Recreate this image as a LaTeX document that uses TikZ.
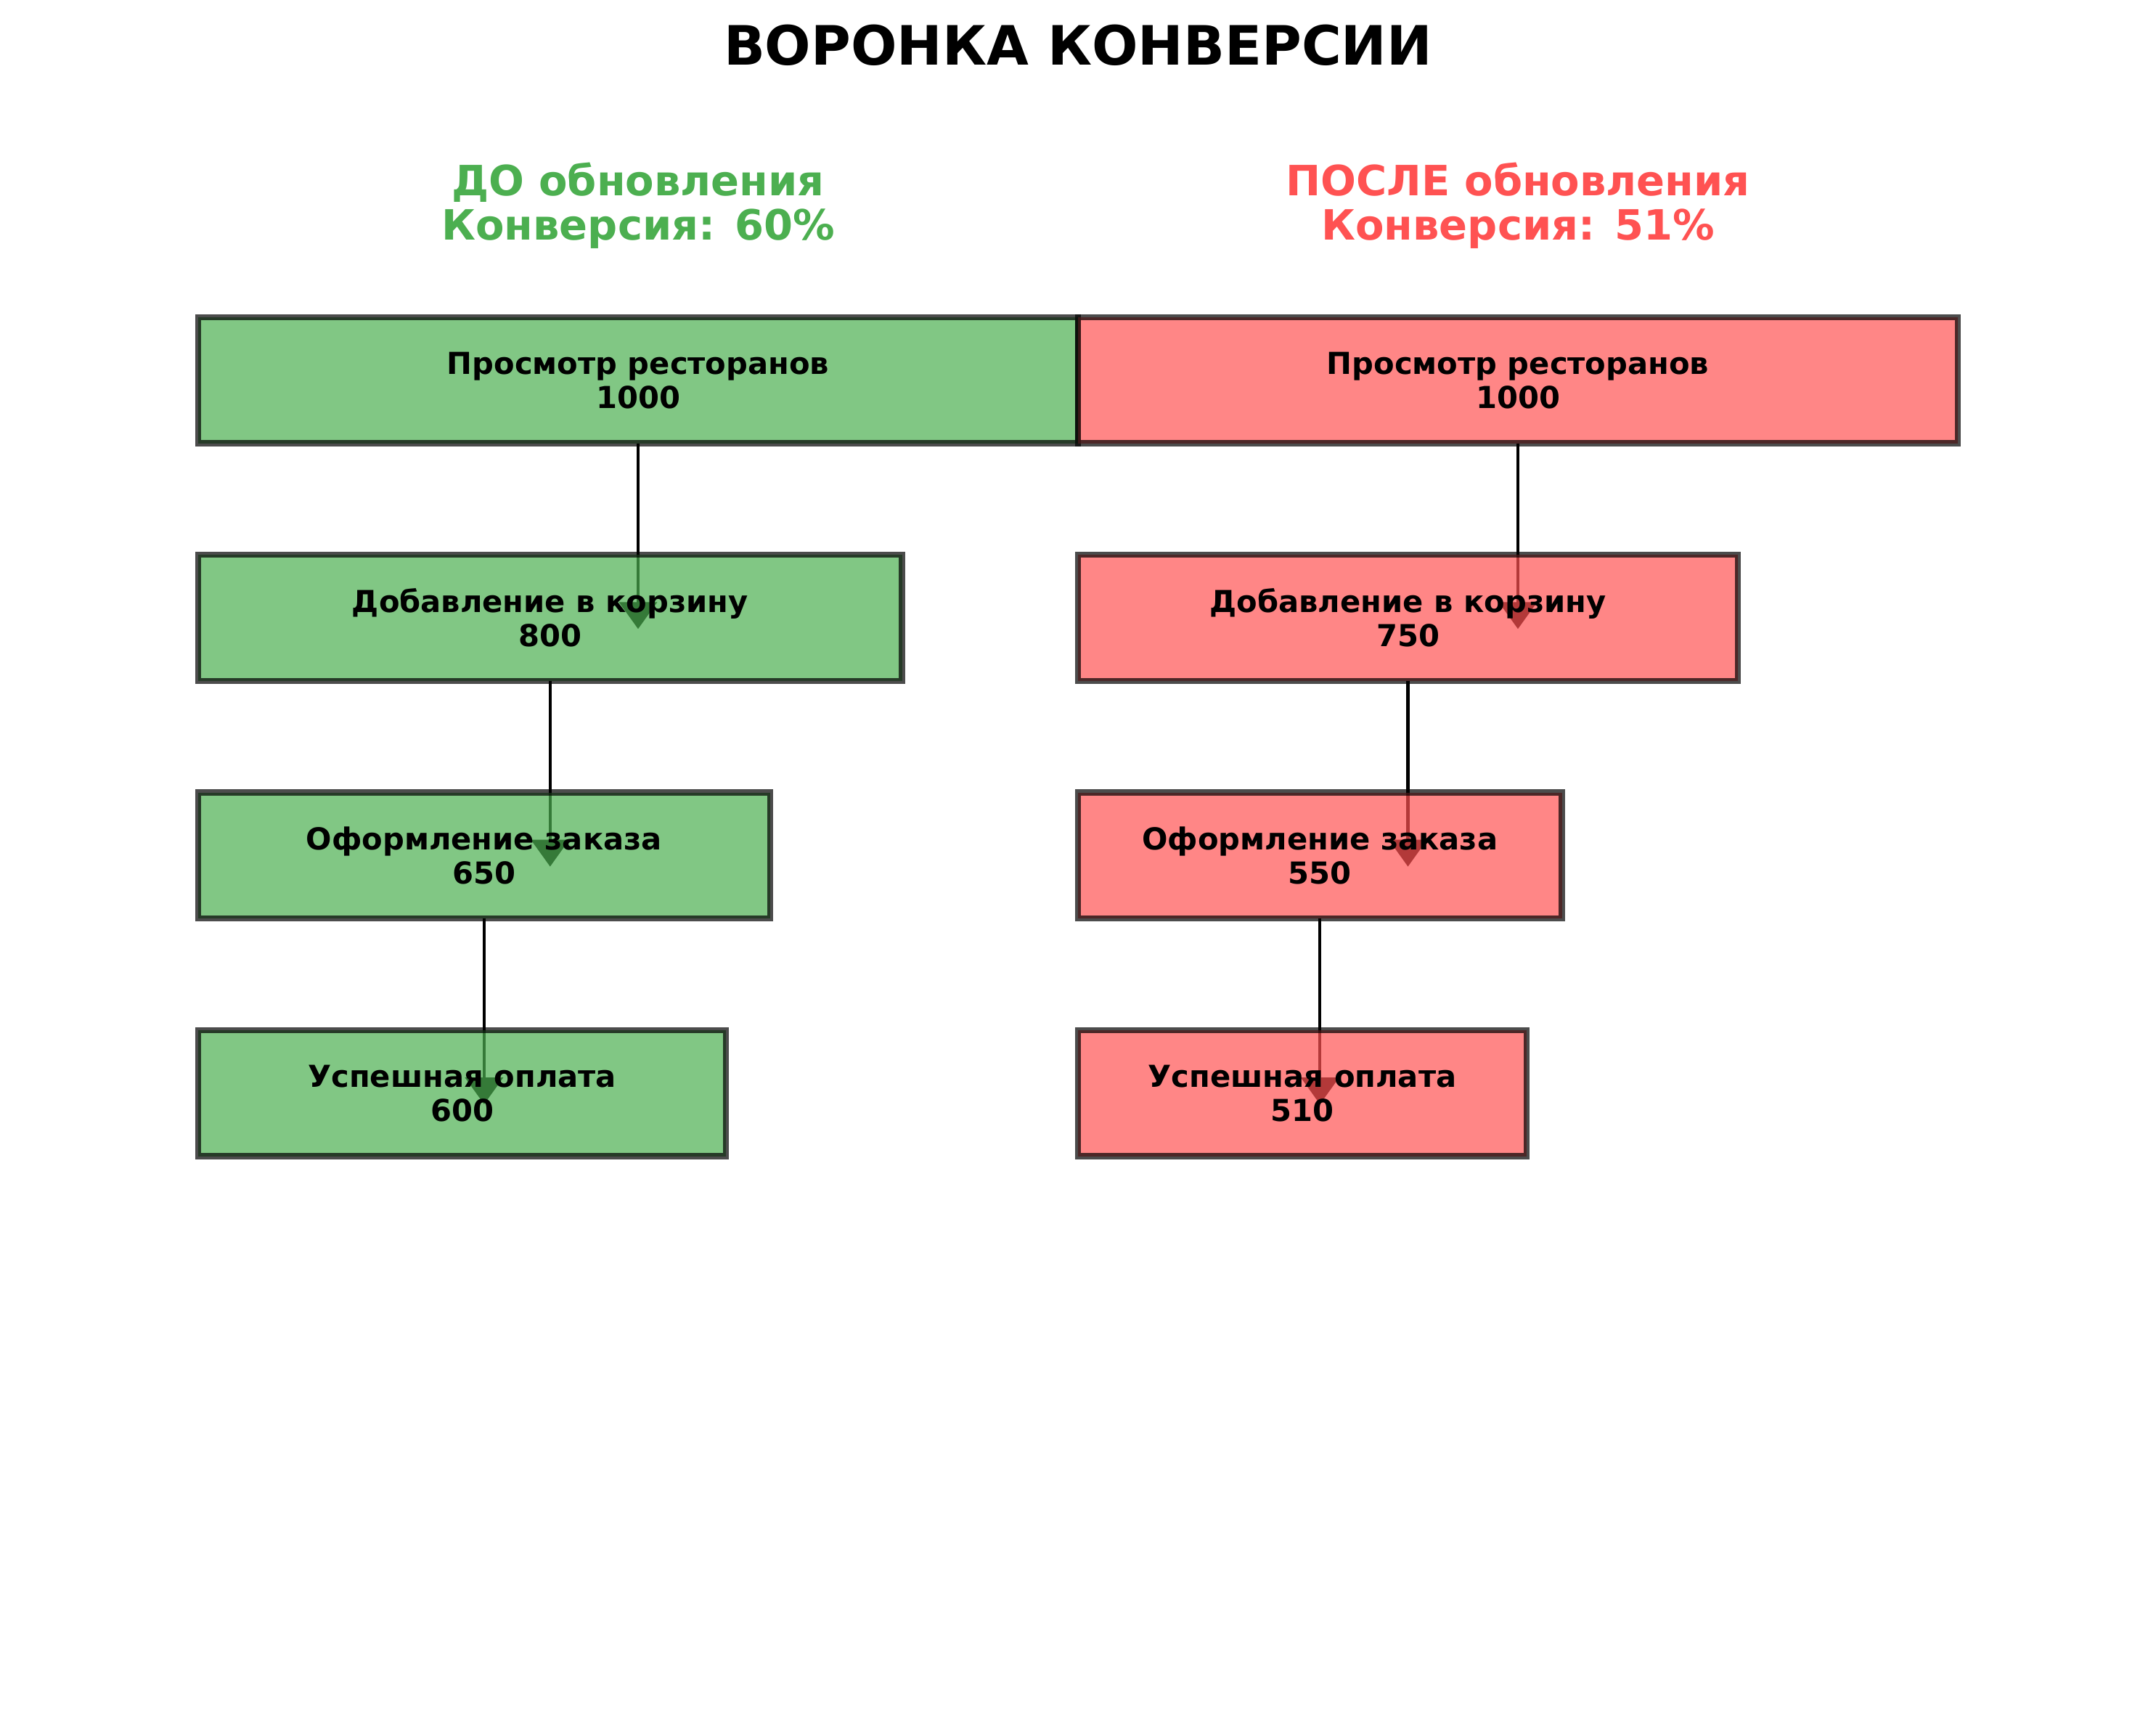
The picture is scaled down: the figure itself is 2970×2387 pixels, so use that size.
\documentclass[tikz,border=0pt]{standalone}
\usepackage{fontspec}
\setmainfont{DejaVu Sans}
\usetikzlibrary{arrows.meta,calc}
\pgfdeclarelayer{background}
\pgfsetlayers{background,main}
\definecolor{gfill}{HTML}{4CAF50}
\definecolor{rfill}{HTML}{FF5252}
\begin{document}
\begin{tikzpicture}[x=0.36pt,y=-0.36pt,
  box/.style={rectangle, draw=black, draw opacity=0.7, fill opacity=0.7, text opacity=1,
    line width=3pt, inner sep=0pt, outer sep=0pt, minimum height=173.5*0.36pt,
    anchor=north west, align=center, font=\bfseries\fontsize{15}{17}\selectfont},
  gbox/.style={box, fill=gfill},
  rbox/.style={box, fill=rfill},
  flow/.style={line width=1.5pt, black, -{Triangle[width=18.7pt,length=13.3pt]}},
  ttl/.style={font=\bfseries\fontsize{26.9}{31}\selectfont},
  sub/.style={align=center, font=\bfseries\fontsize{20.7}{22}\selectfont},
]
\useasboundingbox (0,0) rectangle (2970,2387);
\node[ttl] (title) at (1485,62) {ВОРОНКА КОНВЕРСИИ};
\node[sub, text=gfill] (subL) at (879,283) {ДО обновления\\Конверсия: 60\%};
\node[sub, text=rfill] (subR) at (2091,283) {ПОСЛЕ обновления\\Конверсия: 51\%};
% left column
\node[gbox, minimum width=1212*0.36pt] (g1) at (273,437) {Просмотр ресторанов\\1000};
\node[gbox, minimum width=969.6*0.36pt] (g2) at (273,764.3) {Добавление в корзину\\800};
\node[gbox, minimum width=787.8*0.36pt] (g3) at (273,1091.6) {Оформление заказа\\650};
\node[gbox, minimum width=727.2*0.36pt] (g4) at (273,1419) {Успешная оплата\\600};
% right column
\node[rbox, minimum width=1212*0.36pt] (r1) at (1485,437) {Просмотр ресторанов\\1000};
\node[rbox, minimum width=909*0.36pt] (r2) at (1485,764.3) {Добавление в корзину\\750};
\node[rbox, minimum width=666.6*0.36pt] (r3) at (1485,1091.6) {Оформление заказа\\550};
\node[rbox, minimum width=618.1*0.36pt] (r4) at (1485,1419) {Успешная оплата\\510};
\begin{pgfonlayer}{background}
\draw[flow] (g1.south) -- ($(g2.north -| g1.south)+(0,102)$);
\draw[flow] (g2.south) -- ($(g3.north -| g2.south)+(0,102)$);
\draw[flow] (g3.south) -- ($(g4.north -| g3.south)+(0,102)$);
\draw[flow] (r1.south) -- ($(r2.north -| r1.south)+(0,102)$);
\draw[flow] (r2.south) -- ($(r3.north -| r2.south)+(0,102)$);
\draw[flow] (r3.south) -- ($(r4.north -| r3.south)+(0,102)$);
\end{pgfonlayer}
\end{tikzpicture}
\end{document}
